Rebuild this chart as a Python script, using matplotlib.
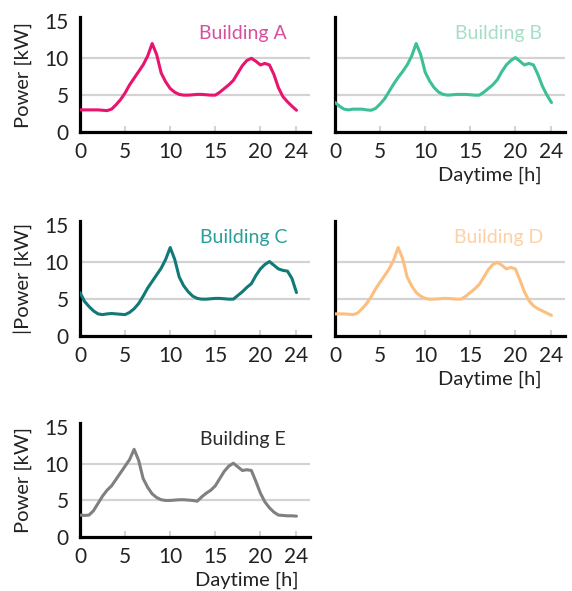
import matplotlib
matplotlib.use("Agg")
import matplotlib.pyplot as plt

plt.rcParams['font.family'] = ['Lato', 'DejaVu Sans']

# half-hourly load profiles (kW)
hours = [h / 2 for h in range(49)]
building_a = [3.0, 3.0, 3.0, 3.0, 3.0, 2.95, 2.9, 3.1, 3.7, 4.4, 5.3, 6.4, 7.3,
              8.2, 9.1, 10.3, 12.0, 10.5, 8.0, 6.8, 5.9, 5.4, 5.1, 5.0, 5.0,
              5.05, 5.1, 5.1, 5.05, 5.0, 5.0, 5.4, 5.9, 6.4, 7.0, 8.0, 9.0,
              9.7, 10.0, 9.6, 9.1, 9.3, 9.1, 7.8, 6.0, 4.8, 4.1, 3.5, 2.95]
building_b = [4.0, 3.5, 3.1, 3.0, 3.1, 3.1, 3.1, 3.0, 2.95, 3.2, 3.8, 4.5, 5.5,
              6.5, 7.4, 8.2, 9.1, 10.3, 12.0, 10.5, 8.1, 6.9, 6.0, 5.4, 5.1,
              5.0, 5.05, 5.1, 5.1, 5.1, 5.05, 5.0, 5.0, 5.4, 5.9, 6.4, 7.1,
              8.2, 9.1, 9.7, 10.1, 9.6, 9.1, 9.3, 9.1, 7.8, 6.2, 5.0, 4.0]
building_c = [5.9, 4.7, 4.0, 3.4, 3.0, 2.9, 3.0, 3.05, 3.0, 2.95, 2.9, 3.2, 3.7,
              4.4, 5.4, 6.5, 7.4, 8.3, 9.2, 10.4, 12.0, 10.4, 8.0, 6.8, 6.0,
              5.4, 5.1, 5.0, 5.0, 5.05, 5.1, 5.1, 5.05, 5.0, 5.0, 5.5, 6.0,
              6.6, 7.1, 8.2, 9.1, 9.7, 10.1, 9.6, 9.1, 8.9, 8.8, 7.8, 5.9]
building_d = [3.0, 3.0, 3.0, 2.95, 2.9, 3.1, 3.7, 4.4, 5.3, 6.4, 7.3, 8.2, 9.1,
              10.3, 12.0, 10.5, 8.0, 6.8, 5.9, 5.4, 5.1, 5.0, 5.0, 5.05, 5.1,
              5.1, 5.05, 5.0, 5.0, 5.4, 5.9, 6.4, 7.0, 8.0, 9.0, 9.7, 10.0,
              9.6, 9.1, 9.3, 9.1, 7.6, 6.0, 4.8, 4.1, 3.7, 3.4, 3.1, 2.8]
building_e = [3.0, 2.95, 3.0, 3.6, 4.6, 5.6, 6.4, 7.0, 7.9, 8.8, 9.7, 10.6, 12.0,
              10.5, 8.0, 6.8, 5.9, 5.4, 5.1, 5.0, 5.0, 5.05, 5.1, 5.1, 5.05,
              5.0, 4.9, 5.5, 6.0, 6.4, 7.0, 8.0, 9.0, 9.7, 10.1, 9.6, 9.1,
              9.2, 9.1, 7.6, 6.0, 4.8, 4.0, 3.4, 3.0, 2.95, 2.9, 2.9, 2.85]

names = ['Building A', 'Building B', 'Building C', 'Building D', 'Building E']
series = [building_a, building_b, building_c, building_d, building_e]
line_colors = ['#e8146e', '#3dbf98', '#0f7a77', '#fdbf80', '#808080']
title_colors = ['#d94f9e', '#a6dfc6', '#2a9e98', '#fdd0a6', '#2b2b2b']
ylabels = ['Power [kW]', None, '|Power [kW]', None, 'Power [kW]']
xlabels = [None, 'Daytime [h]', None, 'Daytime [h]', 'Daytime [h]']
xticks = [0, 5, 10, 15, 20, 24]
yticks = [0, 5, 10, 15]

W, H = 572, 591
fig = plt.figure(figsize=(W / 100, H / 100), dpi=100)

# axes boxes in pixels: left, top, bottom
boxes = [(80, 17, 132), (335, 17, 132), (80, 221, 336), (335, 221, 336), (80, 423, 537)]
xlabel_x = [None, 0.674, None, 0.674, 0.726]

for i in range(5):
    left, top, bottom = boxes[i]
    ax = fig.add_axes([left / W, 1 - bottom / H, 230 / W, (bottom - top) / H])
    ax.plot(hours, series[i], color=line_colors[i], lw=2.2, solid_joinstyle='round',
            solid_capstyle='round', zorder=3)
    ax.set_xlim(0, 25.5)
    ax.set_ylim(0, 15.6)
    ax.set_xticks(xticks)
    ax.set_yticks(yticks)
    for yv in [5, 10]:
        ax.axhline(yv, color='#d3d3d3', lw=1.6, zorder=1)
    for s in ['top', 'right']:
        ax.spines[s].set_visible(False)
    for s in ['left', 'bottom']:
        ax.spines[s].set_linewidth(2.3)
        ax.spines[s].set_color('black')
    ax.tick_params(axis='x', direction='in', length=4, width=1.5, color='#d3d3d3',
                   labelsize=15, pad=7, labelcolor='#222222')
    ax.tick_params(axis='y', length=0, labelsize=15, pad=8, labelcolor='#222222')
    if i in (1, 3):
        ax.set_yticklabels([])
    ax.text(0.71, 0.855, names[i], transform=ax.transAxes, ha='center', va='center',
            fontsize=14, color=title_colors[i])
    if ylabels[i]:
        ax.set_ylabel(ylabels[i], fontsize=14.5, color='#222222')
        ax.yaxis.set_label_coords(-0.21, 0.5)
    if xlabels[i]:
        ax.set_xlabel(xlabels[i], fontsize=14.5, color='#222222')
        ax.xaxis.set_label_coords(xlabel_x[i], -0.305)

fig.savefig('out.png', dpi=100)
